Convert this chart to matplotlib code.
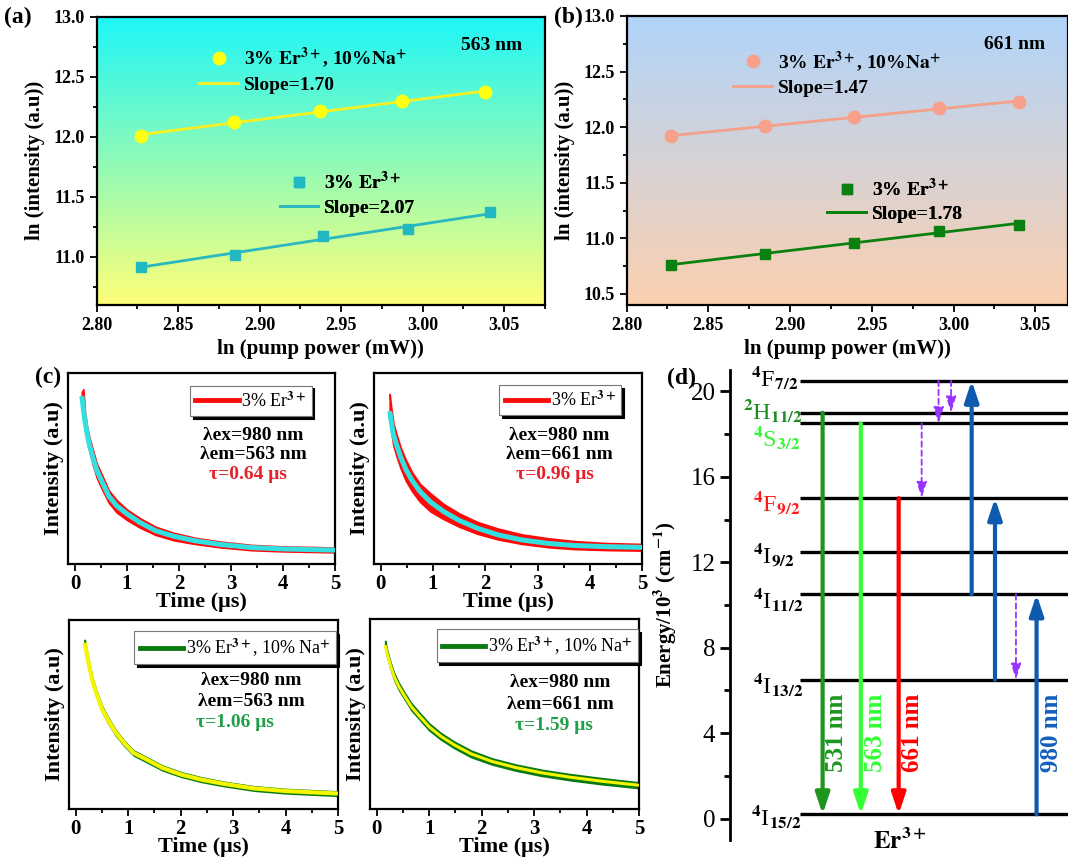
import matplotlib.pyplot as plt
import numpy as np
from matplotlib.colors import to_rgb
from matplotlib.lines import Line2D
from matplotlib.ticker import MultipleLocator, FormatStrFormatter

plt.rcParams['font.family'] = ['Liberation Serif', 'DejaVu Serif']
plt.rcParams['mathtext.fontset'] = 'stix'
plt.rcParams['font.weight'] = 'bold'
plt.rcParams['axes.labelweight'] = 'bold'

# ---- (a) 563 nm: ln(I) vs ln(P)
pow_a_na = [2.827, 2.884, 2.937, 2.987, 3.038]
int_a_na = [12.01, 12.12, 12.21, 12.30, 12.37]
pow_a = [2.827, 2.885, 2.939, 2.991, 3.041]
int_a = [10.92, 11.02, 11.17, 11.23, 11.37]

# ---- (b) 661 nm
pow_b = [2.827, 2.885, 2.939, 2.991, 3.040]
int_b_na = [11.92, 12.01, 12.09, 12.17, 12.23]
int_b = [10.76, 10.86, 10.96, 11.07, 11.12]

# ---- (c) decay curves (normalised to axis height), data band + fit
t_c1 = [0.13, 0.16, 0.19, 0.23, 0.28, 0.34, 0.42, 0.52, 0.65, 0.80, 1.00,
        1.25, 1.55, 1.90, 2.30, 2.80, 3.40, 4.00, 4.60, 5.00]
fit_c1 = [0.88, 0.81, 0.75, 0.685, 0.62, 0.56, 0.49, 0.43, 0.355, 0.305, 0.262,
          0.217, 0.174, 0.145, 0.122, 0.102, 0.086, 0.079, 0.075, 0.073]
hi_c1 = [0.90, 0.915, 0.80, 0.72, 0.66, 0.60, 0.525, 0.465, 0.385, 0.335, 0.285,
         0.24, 0.195, 0.163, 0.138, 0.117, 0.1, 0.092, 0.089, 0.086]
lo_c1 = [0.86, 0.78, 0.71, 0.645, 0.585, 0.52, 0.45, 0.39, 0.32, 0.27, 0.23,
         0.19, 0.152, 0.124, 0.105, 0.087, 0.072, 0.066, 0.063, 0.061]

t_c2 = [0.17, 0.20, 0.24, 0.30, 0.38, 0.48, 0.60, 0.75, 0.95, 1.20, 1.50,
        1.85, 2.25, 2.70, 3.20, 3.70, 4.30, 5.00]
fit_c2 = [0.80, 0.745, 0.68, 0.625, 0.56, 0.495, 0.437, 0.38, 0.325, 0.275, 0.228,
          0.187, 0.152, 0.126, 0.108, 0.097, 0.091, 0.087]
hi_c2 = [0.89, 0.82, 0.74, 0.68, 0.61, 0.545, 0.48, 0.42, 0.37, 0.315, 0.265,
         0.22, 0.185, 0.155, 0.135, 0.12, 0.11, 0.105]
lo_c2 = [0.76, 0.69, 0.62, 0.565, 0.50, 0.435, 0.38, 0.325, 0.275, 0.235, 0.195,
         0.158, 0.128, 0.105, 0.088, 0.078, 0.073, 0.07]

t_c3 = [0.17, 0.21, 0.26, 0.32, 0.40, 0.50, 0.62, 0.76, 0.92, 1.10, 1.35,
        1.65, 2.00, 2.40, 2.85, 3.40, 4.00, 4.60, 5.00]
fit_c3 = [0.88, 0.82, 0.75, 0.675, 0.605, 0.53, 0.468, 0.405, 0.35, 0.297, 0.262,
          0.218, 0.183, 0.155, 0.132, 0.109, 0.095, 0.087, 0.082]
hi_c3 = [0.895, 0.835, 0.765, 0.69, 0.62, 0.545, 0.482, 0.418, 0.362, 0.31, 0.274,
         0.23, 0.195, 0.167, 0.143, 0.12, 0.106, 0.098, 0.093]
lo_c3 = [0.87, 0.805, 0.735, 0.66, 0.59, 0.515, 0.453, 0.39, 0.336, 0.284, 0.248,
         0.205, 0.171, 0.143, 0.12, 0.097, 0.083, 0.075, 0.07]

t_c4 = [0.16, 0.20, 0.26, 0.33, 0.42, 0.53, 0.66, 0.82, 1.00, 1.22, 1.48,
        1.80, 2.20, 2.65, 3.15, 3.70, 4.30, 5.00]
fit_c4 = [0.862, 0.815, 0.755, 0.697, 0.645, 0.595, 0.538, 0.487, 0.432, 0.383, 0.337,
          0.29, 0.25, 0.218, 0.19, 0.167, 0.146, 0.125]
hi_c4 = [0.885, 0.832, 0.772, 0.715, 0.663, 0.612, 0.556, 0.505, 0.45, 0.4, 0.354,
         0.307, 0.266, 0.234, 0.206, 0.183, 0.162, 0.14]
lo_c4 = [0.845, 0.798, 0.738, 0.68, 0.627, 0.578, 0.52, 0.47, 0.414, 0.366, 0.32,
         0.273, 0.234, 0.202, 0.174, 0.151, 0.13, 0.11]

# ---- (d) energy levels of Er3+ (10^3 cm^-1)
level_names = [r'$^{4}$I$_{15/2}$', r'$^{4}$I$_{13/2}$', r'$^{4}$I$_{11/2}$', r'$^{4}$I$_{9/2}$',
               r'$^{4}$F$_{9/2}$', r'$^{4}$S$_{3/2}$', r'$^{2}$H$_{11/2}$', r'$^{4}$F$_{7/2}$']
level_energy = [0.2, 6.5, 10.5, 12.5, 15.0, 18.5, 19.0, 20.5]
emissions = [(19.0, 0.2, '531 nm'), (18.5, 0.2, '563 nm'), (15.0, 0.2, '661 nm')]
pumps = [(0.2, 10.5), (6.5, 15.0), (10.5, 20.5)]
relax = [(18.5, 15.0), (20.5, 18.5), (20.5, 19.0), (10.5, 6.5)]

ER_B = r'$\mathbf{Er^{3+}}$'
NA_B = r'$\mathbf{Na^{+}}$'
ER_R = r'Er$^{3+}$'
NA_R = r'Na$^{+}$'

# layout helpers (pixels of the 1068x857 canvas)
W, H = 1068, 857


def rect(x0, y0, x1, y1):
    return [x0 / W, 1 - y1 / H, (x1 - x0) / W, (y1 - y0) / H]


fig = plt.figure(figsize=(W / 100, H / 100), dpi=100)


def gradient(ax, top, bottom, xlim, ylim):
    c = np.linspace(0, 1, 256)[:, None, None]
    img = np.array(to_rgb(top)) * (1 - c) + np.array(to_rgb(bottom)) * c
    ax.imshow(img, extent=[xlim[0], xlim[1], ylim[0], ylim[1]], aspect='auto',
              origin='upper', zorder=0)


def power_panel(r, xmax, ylim, top, bottom, series, tag, legpos):
    ax = fig.add_axes(r)
    gradient(ax, top, bottom, (2.80, xmax), ylim)
    for (x, y, marker, ms, mc, lc, lab, slope), pos in zip(series, legpos):
        ax.plot(x, y, marker, ms=ms, color=mc, zorder=4)
        p = np.polyfit(x, y, 1)
        ax.plot([x[0], x[-1]], np.polyval(p, [x[0], x[-1]]), color=lc, lw=2, zorder=3)
        hs = [Line2D([], [], ls='none', marker=marker, ms=ms, color=mc),
              Line2D([], [], color=lc, lw=2)]
        leg = ax.legend(hs, [lab, slope], loc='center left', bbox_to_anchor=pos,
                        frameon=False, borderpad=0, borderaxespad=0, handlelength=2.0,
                        handletextpad=0.3, labelspacing=0.3,
                        prop={'size': 14, 'weight': 'bold'})
        ax.add_artist(leg)
    ax.text(0.88, 0.90, tag, transform=ax.transAxes, ha='center', va='center',
            fontsize=14, fontweight='bold')
    ax.set_xlim(2.80, xmax)
    ax.set_ylim(*ylim)
    ax.xaxis.set_major_locator(MultipleLocator(0.05))
    ax.xaxis.set_minor_locator(MultipleLocator(0.025))
    ax.yaxis.set_major_locator(MultipleLocator(0.5))
    ax.yaxis.set_minor_locator(MultipleLocator(0.25))
    ax.xaxis.set_major_formatter(FormatStrFormatter('%.2f'))
    ax.yaxis.set_major_formatter(FormatStrFormatter('%.1f'))
    ax.tick_params(which='both', direction='out', width=1.3, labelsize=13)
    ax.tick_params(which='major', length=5)
    ax.tick_params(which='minor', length=3)
    for s in ax.spines.values():
        s.set_linewidth(1.6)
    ax.set_xlabel('ln (pump power (mW))', fontsize=15, labelpad=4)
    ax.set_ylabel('ln (intensity (a.u))', fontsize=15, labelpad=6)
    return ax


power_panel(rect(96.7, 16.5, 545, 305), 3.075, (10.6, 13.0), '#1ef6f8', '#ffff78',
            [(pow_a_na, int_a_na, 'o', 9, '#ffff10', '#f8f020',
              '3% ' + ER_B + ', 10%' + NA_B, 'Slope=1.70'),
             (pow_a, int_a, 's', 6.5, '#22b8c2', '#2ab8c0', '3% ' + ER_B, 'Slope=2.07')],
            '563 nm', [(0.229, 0.815), (0.408, 0.385)])

power_panel(rect(626.5, 16, 1068, 305), 3.07, (10.4, 13.0), '#b0d4fa', '#fcd0b0',
            [(pow_b, int_b_na, 'o', 9, '#f8a08a', '#f5a08a',
              '3% ' + ER_B + ', 10%' + NA_B, 'Slope=1.47'),
             (pow_b, int_b, 's', 6.5, '#0a8010', '#0a8010', '3% ' + ER_B, 'Slope=1.78')],
            '661 nm', [(0.242, 0.803), (0.455, 0.362)])


def decay_panel(r, t, lo, hi, fit, dcol, fcol, fit_lw, lab, legxy, em, tau, tcol, txy):
    ax = fig.add_axes(r)
    ax.fill_between(t, lo, hi, color=dcol, lw=1.2, zorder=2)
    ax.plot(t, fit, color=fcol, lw=fit_lw, zorder=3, solid_capstyle='butt')
    h = Line2D([], [], color=dcol, lw=3.5)
    leg = ax.legend([h], [lab], loc='upper left', bbox_to_anchor=legxy,
                    borderaxespad=0, fancybox=False, framealpha=1,
                    edgecolor='#777777',
                    shadow={'facecolor': 'black', 'edgecolor': 'black', 'alpha': 1},
                    handlelength=2.4, handletextpad=0.15, borderpad=0.3,
                    prop={'size': 13, 'weight': 'normal'})
    leg.get_frame().set_linewidth(0.8)
    x, y0, y1, y2, xt = txy
    ax.text(x, y0, 'λex=980 nm', transform=ax.transAxes, ha='center', va='center',
            fontsize=14, fontweight='bold')
    ax.text(x, y1, 'λem=' + em, transform=ax.transAxes, ha='center', va='center',
            fontsize=14, fontweight='bold')
    ax.text(xt, y2, 'τ=' + tau, transform=ax.transAxes, ha='center', va='center',
            fontsize=14, fontweight='bold', color=tcol)
    ax.set_xlim(-0.13, 5.0)
    ax.set_ylim(0, 1)
    ax.set_yticks([])
    ax.xaxis.set_major_locator(MultipleLocator(1))
    ax.xaxis.set_minor_locator(MultipleLocator(0.5))
    ax.tick_params(which='both', direction='out', width=1.3, labelsize=15)
    ax.tick_params(which='major', length=5, pad=2)
    ax.tick_params(which='minor', length=3)
    for s in ax.spines.values():
        s.set_linewidth(1.6)
    ax.set_xlabel('Time (μs)', fontsize=16, labelpad=-1)
    ax.set_ylabel('Intensity (a.u)', fontsize=16, labelpad=3)
    return ax


decay_panel(rect(68.3, 373, 335, 564), t_c1, lo_c1, hi_c1, fit_c1, '#ff0a0a', '#33e0e0', 3.6,
            '3% ' + ER_R, (0.456, 0.934), '563 nm', '0.64 μs', '#e8202a',
            (0.694, 0.675, 0.571, 0.466, 0.675))
decay_panel(rect(374, 373, 642, 564), t_c2, lo_c2, hi_c2, fit_c2, '#ff0a0a', '#33e0e0', 3.6,
            '3% ' + ER_R, (0.467, 0.937), '661 nm', '0.96 μs', '#e8202a',
            (0.69, 0.675, 0.571, 0.466, 0.677))
decay_panel(rect(69, 620, 338, 809), t_c3, lo_c3, hi_c3, fit_c3, '#0a7a10', '#f5f500', 3.0,
            '3% ' + ER_R + ', 10% ' + NA_R, (0.243, 0.94), '563 nm', '1.06 μs', '#20a048',
            (0.677, 0.681, 0.570, 0.460, 0.617))
decay_panel(rect(370, 619, 639, 809), t_c4, lo_c4, hi_c4, fit_c4, '#0a7a10', '#f5f500', 2.2,
            '3% ' + ER_R + ', 10% ' + NA_R, (0.248, 0.946), '661 nm', '1.59 μs', '#20a048',
            (0.706, 0.668, 0.549, 0.441, 0.685))

# ---- (d) energy level diagram
axd = fig.add_axes(rect(730, 370, 1068, 840))
axd.set_xlim(0, 1)
axd.set_ylim(-1, 21)
for e in level_energy:
    axd.plot([0.207, 1.0], [e, e], color='black', lw=2.4, solid_capstyle='butt', zorder=2)

label_x = [0.063, 0.068, 0.069, 0.069, 0.069, 0.067, 0.039, 0.061]
label_y = [0.08, 6.25, 10.23, 12.34, 14.77, 17.8, 19.05, 20.6]
label_col = ['black', 'black', 'black', 'black', '#ff1a1a', '#33f533', '#1e8c1e', 'black']
for name, x, y, c in zip(level_names, label_x, label_y, label_col):
    axd.text(x, y, name, ha='left', va='center', fontsize=17.5, fontweight='normal',
             color=c, clip_on=False)

big_head = dict(arrowstyle='-|>,head_length=0.9,head_width=0.3', mutation_scale=14,
                lw=3, shrinkA=0, shrinkB=0)
em_x = [0.274, 0.387, 0.499]
em_col = ['#1e961e', '#33ff33', '#ff0000']
em_tx = [0.316, 0.429, 0.541]
for (e0, e1, lab), x, c, tx in zip(emissions, em_x, em_col, em_tx):
    axd.annotate('', xy=(x, e1), xytext=(x, e0),
                 arrowprops=dict(color=c, **big_head), zorder=3)
    axd.text(tx, 4.0, lab, rotation=90, ha='center', va='center', fontsize=18,
             fontweight='bold', color=c)

pump_x = [0.907, 0.784, 0.715]
for (e0, e1), x in zip(pumps, pump_x):
    axd.annotate('', xy=(x, e1), xytext=(x, e0),
                 arrowprops=dict(color='#0d5aaf', **big_head), zorder=3)
axd.text(0.952, 4.0, '980 nm', rotation=90, ha='center', va='center', fontsize=18,
         fontweight='bold', color='#1560bd')

relax_x = [0.567, 0.617, 0.654, 0.846]
for (e0, e1), x in zip(relax, relax_x):
    axd.annotate('', xy=(x, e1), xytext=(x, e0),
                 arrowprops=dict(arrowstyle='-|>,head_length=0.8,head_width=0.25',
                                 mutation_scale=12, color='#9933ff', lw=1.3,
                                 linestyle=(0, (3, 2)), shrinkA=0, shrinkB=0), zorder=3)

axd.text(0.503, -1.05, ER_B, ha='center', va='center', fontsize=18, clip_on=False)
for side in ('top', 'right', 'bottom'):
    axd.spines[side].set_visible(False)
axd.spines['left'].set_linewidth(2)
axd.set_xticks([])
axd.yaxis.set_major_locator(MultipleLocator(4))
axd.yaxis.set_minor_locator(MultipleLocator(2))
axd.tick_params(which='both', direction='out', width=2)
axd.tick_params(which='major', length=7, labelsize=18)
axd.tick_params(which='minor', length=4)
for lab in axd.get_yticklabels():
    lab.set_fontweight('normal')
axd.set_ylabel(r'Energy/10$^{\mathbf{3}}$ (cm$^{\mathbf{-1}}$)', fontsize=15, labelpad=8)

for txt, x, y in [('(a)', 18, 17), ('(b)', 568, 17), ('(c)', 48, 377), ('(d)', 682, 378)]:
    fig.text(x / W, 1 - y / H, txt, ha='center', va='center', fontsize=17,
             fontweight='bold')

plt.savefig('out.png', dpi=100)
